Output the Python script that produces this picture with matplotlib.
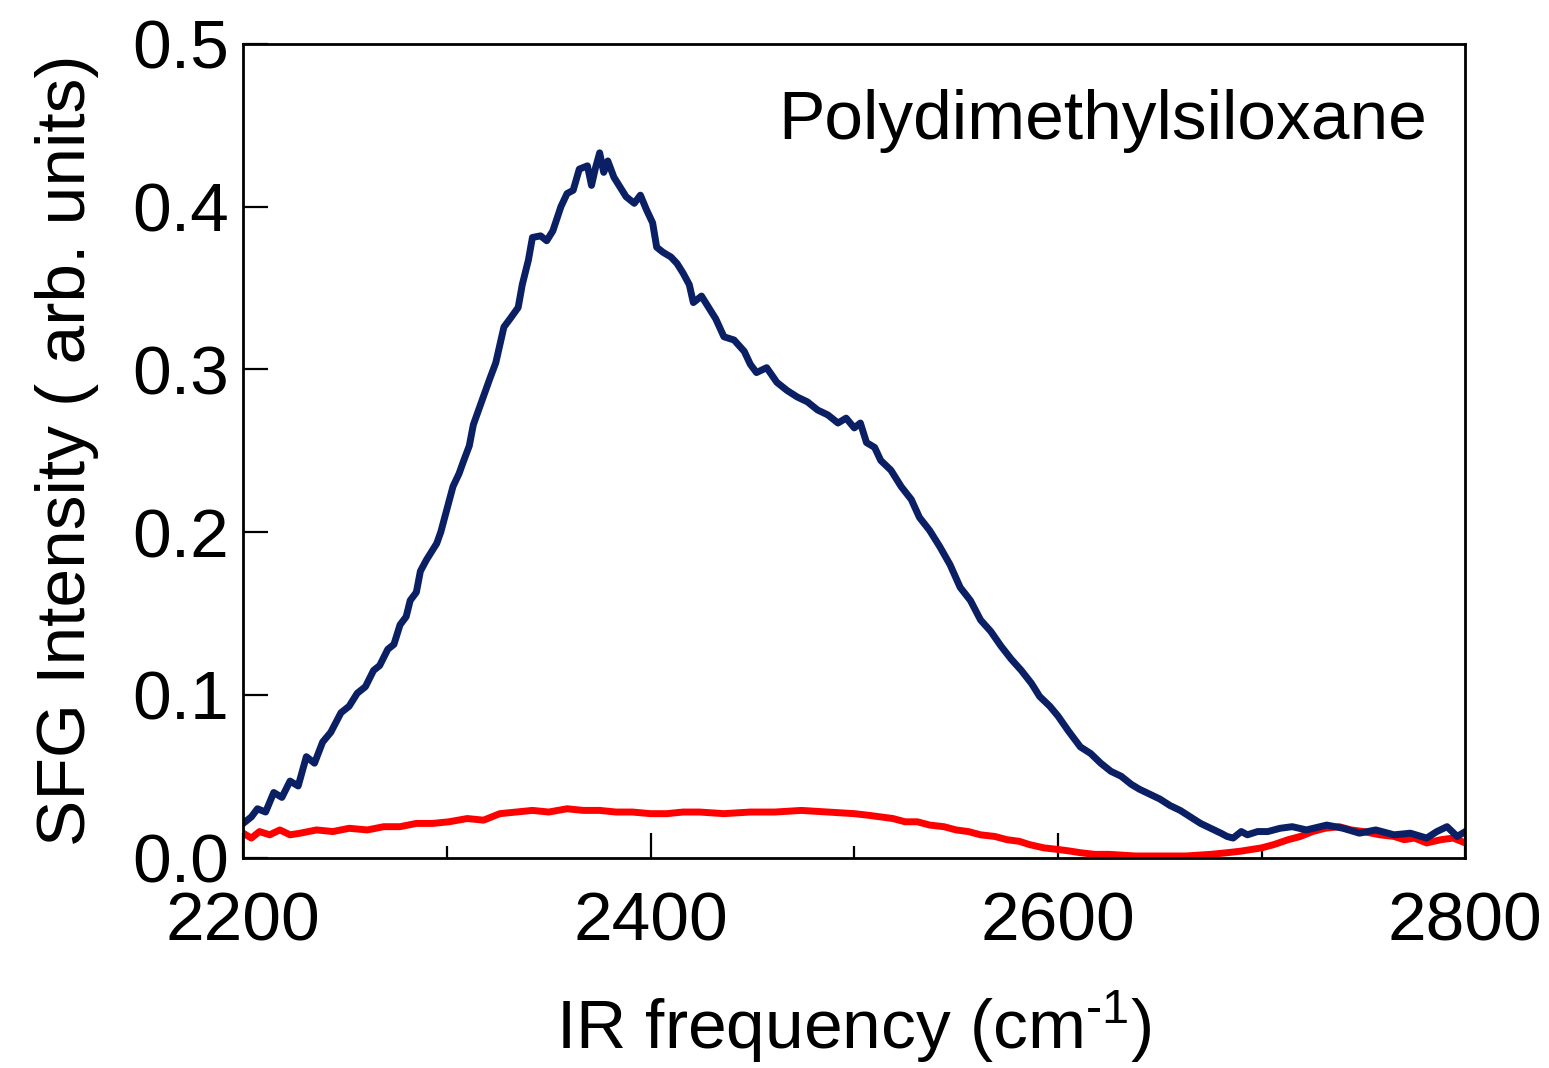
import numpy as np
import matplotlib
matplotlib.use('Agg')
import matplotlib.pyplot as plt

plt.rcParams['font.family'] = ['Liberation Sans', 'DejaVu Sans']
plt.rcParams['mathtext.fontset'] = 'custom'
plt.rcParams['mathtext.rm'] = 'Liberation Sans'
plt.rcParams['mathtext.it'] = 'Liberation Sans'

# PDMS spectrum (blue)
pdms_freq = [2200, 2204, 2207, 2211, 2215, 2219, 2223, 2227, 2231, 2235, 2239, 2243, 2248, 2252,
             2256, 2260, 2264, 2267, 2271, 2274, 2277, 2280, 2282, 2285, 2287, 2290, 2292, 2295,
             2297, 2300, 2303, 2306, 2308, 2311, 2313, 2317, 2321, 2324, 2328, 2331, 2335, 2337,
             2340, 2342, 2346, 2349, 2352, 2356, 2359, 2362, 2365, 2369, 2371, 2373, 2375, 2377,
             2379, 2382, 2385, 2388, 2392, 2395, 2398, 2401, 2403, 2406, 2410, 2413, 2416, 2419,
             2421, 2425, 2429, 2432, 2436, 2441, 2446, 2449, 2452, 2457, 2462, 2467, 2472, 2477,
             2482, 2487, 2492, 2496, 2500, 2503, 2506, 2510, 2513, 2518, 2523, 2528, 2532, 2537,
             2542, 2547, 2552, 2557, 2562, 2567, 2572, 2577, 2582, 2587, 2591, 2596, 2600, 2605,
             2611, 2616, 2621, 2626, 2631, 2636, 2640, 2645, 2650, 2655, 2660, 2665, 2670, 2675,
             2680, 2683, 2686, 2690, 2693, 2698, 2703, 2709, 2715, 2722, 2732, 2740, 2748, 2756,
             2765, 2773, 2781, 2786, 2791, 2796, 2800]
pdms_int = [0.021, 0.025, 0.030, 0.028, 0.040, 0.037, 0.047, 0.044, 0.062, 0.058, 0.071, 0.077,
            0.089, 0.093, 0.101, 0.105, 0.115, 0.118, 0.128, 0.131, 0.143, 0.148, 0.158, 0.163,
            0.176, 0.183, 0.187, 0.193, 0.200, 0.214, 0.228, 0.236, 0.243, 0.253, 0.266, 0.280,
            0.294, 0.304, 0.326, 0.331, 0.338, 0.352, 0.367, 0.381, 0.382, 0.379, 0.385, 0.400,
            0.408, 0.410, 0.423, 0.425, 0.413, 0.424, 0.433, 0.421, 0.428, 0.418, 0.412, 0.406,
            0.402, 0.407, 0.398, 0.390, 0.375, 0.372, 0.369, 0.365, 0.359, 0.352, 0.341, 0.345,
            0.337, 0.331, 0.320, 0.318, 0.311, 0.303, 0.298, 0.301, 0.292, 0.287, 0.283, 0.280,
            0.275, 0.272, 0.267, 0.270, 0.264, 0.267, 0.255, 0.252, 0.244, 0.238, 0.228, 0.220,
            0.209, 0.201, 0.191, 0.180, 0.166, 0.158, 0.146, 0.139, 0.130, 0.122, 0.115, 0.107,
            0.099, 0.093, 0.087, 0.078, 0.068, 0.064, 0.058, 0.053, 0.050, 0.045, 0.042, 0.039,
            0.036, 0.032, 0.029, 0.025, 0.021, 0.018, 0.015, 0.013, 0.012, 0.016, 0.014, 0.016,
            0.016, 0.018, 0.019, 0.017, 0.020, 0.018, 0.015, 0.017, 0.014, 0.015, 0.012, 0.016,
            0.019, 0.013, 0.016]

# reference spectrum (red)
ref_freq = [2200, 2204, 2208, 2213, 2218, 2223, 2228, 2236, 2244, 2252, 2261, 2269, 2277, 2285,
            2293, 2301, 2310, 2318, 2326, 2334, 2342, 2350, 2359, 2367, 2375, 2383, 2391, 2400,
            2408, 2416, 2424, 2436, 2449, 2461, 2474, 2487, 2500, 2507, 2513, 2519, 2525, 2531,
            2537, 2544, 2550, 2556, 2562, 2569, 2575, 2581, 2586, 2593, 2600, 2606, 2611, 2618,
            2625, 2638, 2650, 2663, 2675, 2683, 2690, 2695, 2700, 2706, 2713, 2719, 2725, 2731,
            2738, 2744, 2750, 2758, 2765, 2770, 2775, 2781, 2788, 2794, 2800]
ref_int = [0.015, 0.012, 0.016, 0.014, 0.017, 0.014, 0.015, 0.017, 0.016, 0.018, 0.017, 0.019,
           0.019, 0.021, 0.021, 0.022, 0.024, 0.023, 0.027, 0.028, 0.029, 0.028, 0.030, 0.029,
           0.029, 0.028, 0.028, 0.027, 0.027, 0.028, 0.028, 0.027, 0.028, 0.028, 0.029, 0.028,
           0.027, 0.026, 0.025, 0.024, 0.022, 0.022, 0.020, 0.019, 0.017, 0.016, 0.014, 0.013,
           0.011, 0.010, 0.008, 0.006, 0.005, 0.004, 0.003, 0.002, 0.002, 0.001, 0.001, 0.001,
           0.002, 0.003, 0.004, 0.005, 0.006, 0.008, 0.011, 0.013, 0.016, 0.018, 0.019, 0.017,
           0.016, 0.014, 0.013, 0.011, 0.012, 0.009, 0.011, 0.012, 0.009]

fig = plt.figure(figsize=(15.49, 10.68), dpi=100)
ax = fig.add_axes([0.157, 0.197, 0.789, 0.762])

ax.plot(ref_freq, ref_int, color='#ff0000', lw=5, solid_joinstyle='round')
ax.plot(pdms_freq, pdms_int, color='#0a1f64', lw=5, solid_joinstyle='round')

ax.set_xlim(2200, 2800)
ax.set_ylim(0, 0.5)
ax.set_xticks([2200, 2400, 2600, 2800])
ax.set_xticks([2300, 2500, 2700], minor=True)
ax.set_yticks([0.0, 0.1, 0.2, 0.3, 0.4, 0.5])
ax.set_yticklabels(['0.0', '0.1', '0.2', '0.3', '0.4', '0.5'])

ax.tick_params(axis='both', which='major', direction='in', length=18, width=1.6,
               labelsize=50, top=False, right=False)
ax.tick_params(axis='x', which='major', pad=24)
ax.tick_params(axis='y', which='major', pad=10)
ax.tick_params(axis='x', which='minor', direction='in', length=9, width=1.6, top=False)
for sp in ax.spines.values():
    sp.set_linewidth(2)

ax.set_xlabel(r'IR frequency (cm$^{\text{-1}}$)', fontsize=50, labelpad=24)
ax.set_ylabel('SFG Intensity ( arb. units)', fontsize=50, labelpad=24)
ax.text(0.969, 0.905, 'Polydimethylsiloxane', transform=ax.transAxes,
        ha='right', va='center', fontsize=50)

fig.savefig('out.png', dpi=100)
